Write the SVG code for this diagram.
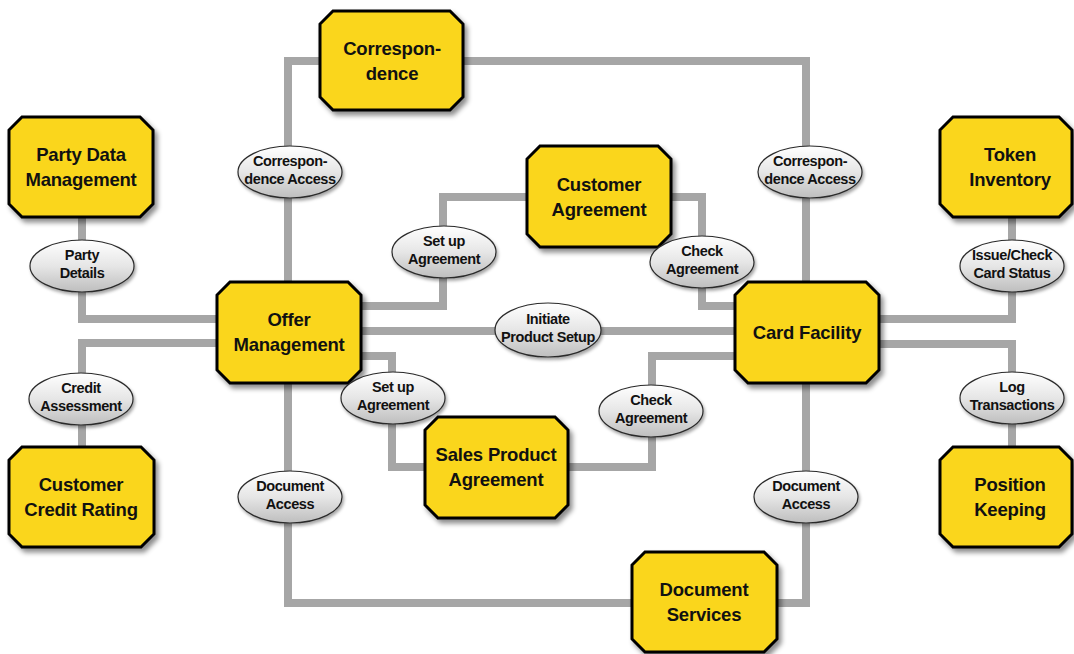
<svg xmlns="http://www.w3.org/2000/svg" width="1074" height="654" viewBox="0 0 1074 654">
<style>
.conn{fill:none;stroke:#A6A6A6;stroke-width:8;stroke-linejoin:miter}
.node polygon{fill:#FAD61C;stroke:#000;stroke-width:3;filter:url(#sh)}
.node text{font-family:"Liberation Sans",Arial,sans-serif;font-weight:bold;font-size:18.5px;fill:#111;text-anchor:middle;letter-spacing:-0.2px}
.iface ellipse{fill:url(#eg);stroke:#2a2a2a;stroke-width:1.2;filter:url(#sh2)}
.iface text{font-family:"Liberation Sans",Arial,sans-serif;font-weight:bold;font-size:14.5px;fill:#111;text-anchor:middle;letter-spacing:-0.4px}
</style>
<defs>
<filter id="sh" x="-10%" y="-10%" width="130%" height="130%">
<feDropShadow dx="3" dy="4" stdDeviation="2.5" flood-color="#000" flood-opacity="0.45"/>
</filter>
<filter id="sh2" x="-10%" y="-10%" width="130%" height="140%">
<feDropShadow dx="1.5" dy="2.5" stdDeviation="1.5" flood-color="#000" flood-opacity="0.35"/>
</filter>
<linearGradient id="eg" x1="0" y1="0" x2="0" y2="1">
<stop offset="0" stop-color="#FFFFFF"/>
<stop offset="0.5" stop-color="#E6E6E6"/>
<stop offset="1" stop-color="#BEBEBE"/>
</linearGradient>
</defs>
<rect width="1074" height="654" fill="#fff"/>
<g id="connectors">
<polyline class="conn" points="320,61 288,61 288,282"/>
<polyline class="conn" points="463,61 806,61 806,282"/>
<polyline class="conn" points="82,217 82,319 217,319"/>
<polyline class="conn" points="217,343 82,343 82,447"/>
<polyline class="conn" points="361,306 443,306 443,197 527,197"/>
<polyline class="conn" points="671,197 702,197 702,306 735,306"/>
<polyline class="conn" points="361,331 735,331"/>
<polyline class="conn" points="361,356 392,356 392,467 425,467"/>
<polyline class="conn" points="568,467 652,467 652,356 735,356"/>
<polyline class="conn" points="288,383 288,603 632,603"/>
<polyline class="conn" points="806,383 806,603 777,603"/>
<polyline class="conn" points="879,319 1012,319 1012,217"/>
<polyline class="conn" points="879,344 1012,344 1012,447"/>
</g>
<g id="correspondence" class="node">
<polygon points="333,11 450,11 463,24 463,97 450,110 333,110 320,97 320,24"/>
<text x="392" y="55">Correspon-</text><text x="392" y="80">dence</text>
</g>
<g id="party-data-management" class="node">
<polygon points="22,117 140,117 153,130 153,204 140,217 22,217 9,204 9,130"/>
<text x="81" y="161">Party Data</text><text x="81" y="186">Management</text>
</g>
<g id="customer-agreement" class="node">
<polygon points="540,146 658,146 671,159 671,234 658,247 540,247 527,234 527,159"/>
<text x="599" y="191">Customer</text><text x="599" y="216">Agreement</text>
</g>
<g id="token-inventory" class="node">
<polygon points="953,117 1059,117 1072,130 1072,204 1059,217 953,217 940,204 940,130"/>
<text x="1010" y="161">Token</text><text x="1010" y="186">Inventory</text>
</g>
<g id="offer-management" class="node">
<polygon points="230,282 348,282 361,295 361,370 348,383 230,383 217,370 217,295"/>
<text x="289" y="326">Offer</text><text x="289" y="351">Management</text>
</g>
<g id="card-facility" class="node">
<polygon points="748,282 866,282 879,295 879,370 866,383 748,383 735,370 735,295"/>
<text x="807" y="339">Card Facility</text>
</g>
<g id="sales-product-agreement" class="node">
<polygon points="438,417 555,417 568,430 568,505 555,518 438,518 425,505 425,430"/>
<text x="496" y="461">Sales Product</text><text x="496" y="486">Agreement</text>
</g>
<g id="customer-credit-rating" class="node">
<polygon points="22,447 141,447 154,460 154,534 141,547 22,547 9,534 9,460"/>
<text x="81" y="491">Customer</text><text x="81" y="516">Credit Rating</text>
</g>
<g id="position-keeping" class="node">
<polygon points="953,447 1059,447 1072,460 1072,534 1059,547 953,547 940,534 940,460"/>
<text x="1010" y="491">Position</text><text x="1010" y="516">Keeping</text>
</g>
<g id="document-services" class="node">
<polygon points="645,552 764,552 777,565 777,639 764,652 645,652 632,639 632,565"/>
<text x="704" y="596">Document</text><text x="704" y="621">Services</text>
</g>
<g id="if-corr-access-left" class="iface">
<ellipse cx="290" cy="172" rx="52" ry="26"/>
<text x="290" y="166">Correspon-</text><text x="290" y="184">dence Access</text>
</g>
<g id="if-corr-access-right" class="iface">
<ellipse cx="810" cy="172" rx="52" ry="26"/>
<text x="810" y="166">Correspon-</text><text x="810" y="184">dence Access</text>
</g>
<g id="if-party-details" class="iface">
<ellipse cx="82" cy="266" rx="52" ry="26"/>
<text x="82" y="260">Party</text><text x="82" y="278">Details</text>
</g>
<g id="if-credit-assessment" class="iface">
<ellipse cx="81" cy="399" rx="52" ry="26"/>
<text x="81" y="393">Credit</text><text x="81" y="411">Assessment</text>
</g>
<g id="if-setup-agreement-upper" class="iface">
<ellipse cx="444" cy="252" rx="52" ry="26"/>
<text x="444" y="246">Set up</text><text x="444" y="264">Agreement</text>
</g>
<g id="if-check-agreement-upper" class="iface">
<ellipse cx="702" cy="262" rx="52" ry="26"/>
<text x="702" y="256">Check</text><text x="702" y="274">Agreement</text>
</g>
<g id="if-issue-check" class="iface">
<ellipse cx="1012" cy="266" rx="52" ry="26"/>
<text x="1012" y="260">Issue/Check</text><text x="1012" y="278">Card Status</text>
</g>
<g id="if-initiate" class="iface">
<ellipse cx="548" cy="330" rx="53" ry="27"/>
<text x="548" y="324">Initiate</text><text x="548" y="342">Product Setup</text>
</g>
<g id="if-setup-agreement-lower" class="iface">
<ellipse cx="393" cy="398" rx="52" ry="26"/>
<text x="393" y="392">Set up</text><text x="393" y="410">Agreement</text>
</g>
<g id="if-check-agreement-lower" class="iface">
<ellipse cx="651" cy="411" rx="52" ry="26"/>
<text x="651" y="405">Check</text><text x="651" y="423">Agreement</text>
</g>
<g id="if-log-transactions" class="iface">
<ellipse cx="1012" cy="398" rx="52" ry="26"/>
<text x="1012" y="392">Log</text><text x="1012" y="410">Transactions</text>
</g>
<g id="if-doc-access-left" class="iface">
<ellipse cx="290" cy="497" rx="52" ry="26"/>
<text x="290" y="491">Document</text><text x="290" y="509">Access</text>
</g>
<g id="if-doc-access-right" class="iface">
<ellipse cx="806" cy="497" rx="52" ry="26"/>
<text x="806" y="491">Document</text><text x="806" y="509">Access</text>
</g>
</svg>
